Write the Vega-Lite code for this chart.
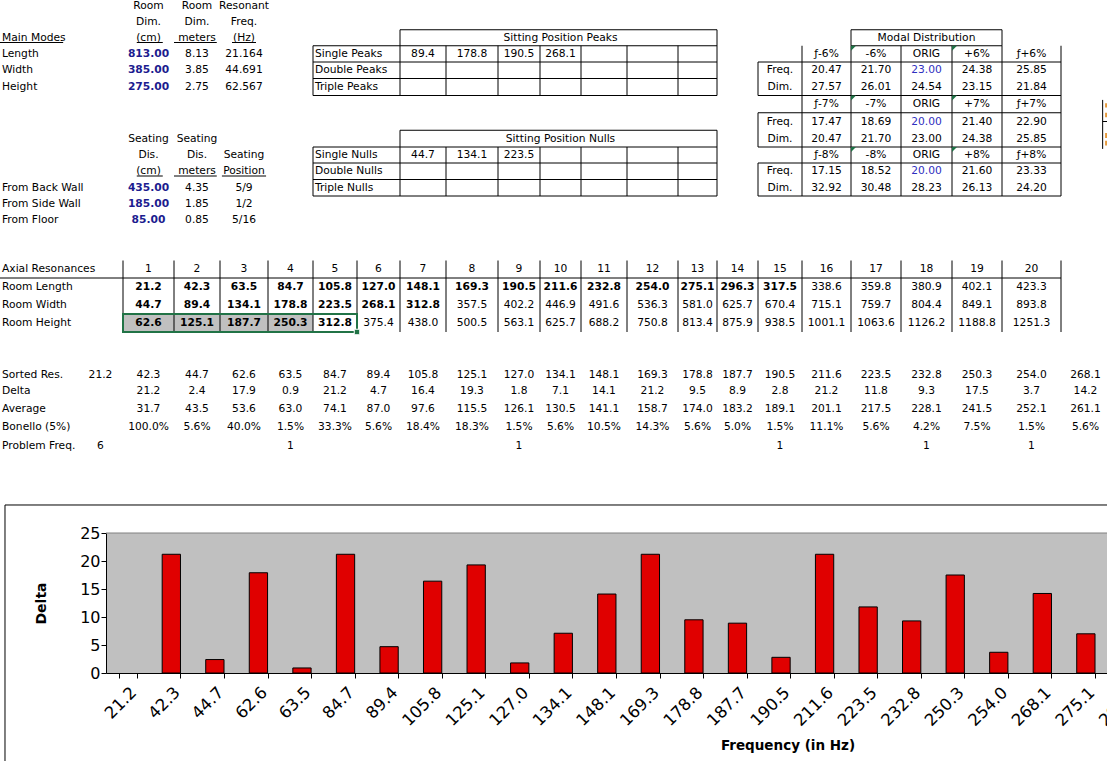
{
  "$schema": "https://vega.github.io/schema/vega-lite/v6.json",
  "width": 1001,
  "height": 140,
  "autosize": {"type": "none"},
  "padding": {"left": 106, "top": 533, "right": 0, "bottom": 88},
  "background": "#ffffff",
  "view": {"fill": "#c0c0c0", "stroke": null},
  "config": {"font": "DejaVu Sans", "text": {"font": "DejaVu Sans", "fontSize": 10.7, "baseline": "middle"}},
  "datasets": {
    "cells": [
      {"row":0,"col":2.5,"t":"Room","k":"n"},{"row":0,"col":3.5,"t":"Room","k":"n"},{"row":0,"col":4.5,"t":"Resonant","k":"n"},
      {"row":1,"col":2.5,"t":"Dim.","k":"n"},{"row":1,"col":3.5,"t":"Dim.","k":"n"},{"row":1,"col":4.5,"t":"Freq.","k":"n"},
      {"row":2,"col":0,"t":"Main Modes","k":"l"},{"row":2,"col":2.5,"t":"(cm)","k":"n"},{"row":2,"col":3.5,"t":"meters","k":"n"},{"row":2,"col":4.5,"t":"(Hz)","k":"n"},
      {"row":2,"col":11.5,"t":"Sitting Position Peaks","k":"n"},{"row":2,"col":19.5,"t":"Modal Distribution","k":"n"},
      {"row":3,"col":0,"t":"Length","k":"l"},{"row":3,"col":2.5,"t":"813.00","k":"i"},{"row":3,"col":3.5,"t":"8.13","k":"n"},{"row":3,"col":4.5,"t":"21.164","k":"n"},
      {"row":3,"col":6,"t":"Single Peaks","k":"l"},{"row":3,"col":8.5,"t":"89.4","k":"n"},{"row":3,"col":9.5,"t":"178.8","k":"n"},{"row":3,"col":10.5,"t":"190.5","k":"n"},{"row":3,"col":11.5,"t":"268.1","k":"n"},
      {"row":3,"col":17.5,"t":"ƒ-6%","k":"n"},{"row":3,"col":18.5,"t":"-6%","k":"n"},{"row":3,"col":19.5,"t":"ORIG","k":"n"},{"row":3,"col":20.5,"t":"+6%","k":"n"},{"row":3,"col":21.5,"t":"ƒ+6%","k":"n"},
      {"row":4,"col":0,"t":"Width","k":"l"},{"row":4,"col":2.5,"t":"385.00","k":"i"},{"row":4,"col":3.5,"t":"3.85","k":"n"},{"row":4,"col":4.5,"t":"44.691","k":"n"},
      {"row":4,"col":6,"t":"Double Peaks","k":"l"},
      {"row":4,"col":16.5,"t":"Freq.","k":"n"},{"row":4,"col":17.5,"t":"20.47","k":"n"},{"row":4,"col":18.5,"t":"21.70","k":"n"},{"row":4,"col":19.5,"t":"23.00","k":"o"},{"row":4,"col":20.5,"t":"24.38","k":"n"},{"row":4,"col":21.5,"t":"25.85","k":"n"},
      {"row":5,"col":0,"t":"Height","k":"l"},{"row":5,"col":2.5,"t":"275.00","k":"i"},{"row":5,"col":3.5,"t":"2.75","k":"n"},{"row":5,"col":4.5,"t":"62.567","k":"n"},
      {"row":5,"col":6,"t":"Triple Peaks","k":"l"},
      {"row":5,"col":16.5,"t":"Dim.","k":"n"},{"row":5,"col":17.5,"t":"27.57","k":"n"},{"row":5,"col":18.5,"t":"26.01","k":"n"},{"row":5,"col":19.5,"t":"24.54","k":"n"},{"row":5,"col":20.5,"t":"23.15","k":"n"},{"row":5,"col":21.5,"t":"21.84","k":"n"},
      {"row":6,"col":17.5,"t":"ƒ-7%","k":"n"},{"row":6,"col":18.5,"t":"-7%","k":"n"},{"row":6,"col":19.5,"t":"ORIG","k":"n"},{"row":6,"col":20.5,"t":"+7%","k":"n"},{"row":6,"col":21.5,"t":"ƒ+7%","k":"n"},
      {"row":7,"col":16.5,"t":"Freq.","k":"n"},{"row":7,"col":17.5,"t":"17.47","k":"n"},{"row":7,"col":18.5,"t":"18.69","k":"n"},{"row":7,"col":19.5,"t":"20.00","k":"o"},{"row":7,"col":20.5,"t":"21.40","k":"n"},{"row":7,"col":21.5,"t":"22.90","k":"n"},
      {"row":8,"col":2.5,"t":"Seating","k":"n"},{"row":8,"col":3.5,"t":"Seating","k":"n"},{"row":8,"col":11.5,"t":"Sitting Position Nulls","k":"n"},
      {"row":8,"col":16.5,"t":"Dim.","k":"n"},{"row":8,"col":17.5,"t":"20.47","k":"n"},{"row":8,"col":18.5,"t":"21.70","k":"n"},{"row":8,"col":19.5,"t":"23.00","k":"n"},{"row":8,"col":20.5,"t":"24.38","k":"n"},{"row":8,"col":21.5,"t":"25.85","k":"n"},
      {"row":9,"col":2.5,"t":"Dis.","k":"n"},{"row":9,"col":3.5,"t":"Dis.","k":"n"},{"row":9,"col":4.5,"t":"Seating","k":"n"},
      {"row":9,"col":6,"t":"Single Nulls","k":"l"},{"row":9,"col":8.5,"t":"44.7","k":"n"},{"row":9,"col":9.5,"t":"134.1","k":"n"},{"row":9,"col":10.5,"t":"223.5","k":"n"},
      {"row":9,"col":17.5,"t":"ƒ-8%","k":"n"},{"row":9,"col":18.5,"t":"-8%","k":"n"},{"row":9,"col":19.5,"t":"ORIG","k":"n"},{"row":9,"col":20.5,"t":"+8%","k":"n"},{"row":9,"col":21.5,"t":"ƒ+8%","k":"n"},
      {"row":10,"col":2.5,"t":"(cm)","k":"n"},{"row":10,"col":3.5,"t":"meters","k":"n"},{"row":10,"col":4.5,"t":"Position","k":"n"},
      {"row":10,"col":6,"t":"Double Nulls","k":"l"},
      {"row":10,"col":16.5,"t":"Freq.","k":"n"},{"row":10,"col":17.5,"t":"17.15","k":"n"},{"row":10,"col":18.5,"t":"18.52","k":"n"},{"row":10,"col":19.5,"t":"20.00","k":"o"},{"row":10,"col":20.5,"t":"21.60","k":"n"},{"row":10,"col":21.5,"t":"23.33","k":"n"},
      {"row":11,"col":0,"t":"From Back Wall","k":"l"},{"row":11,"col":2.5,"t":"435.00","k":"i"},{"row":11,"col":3.5,"t":"4.35","k":"n"},{"row":11,"col":4.5,"t":"5/9","k":"n"},
      {"row":11,"col":6,"t":"Triple Nulls","k":"l"},
      {"row":11,"col":16.5,"t":"Dim.","k":"n"},{"row":11,"col":17.5,"t":"32.92","k":"n"},{"row":11,"col":18.5,"t":"30.48","k":"n"},{"row":11,"col":19.5,"t":"28.23","k":"n"},{"row":11,"col":20.5,"t":"26.13","k":"n"},{"row":11,"col":21.5,"t":"24.20","k":"n"},
      {"row":12,"col":0,"t":"From Side Wall","k":"l"},{"row":12,"col":2.5,"t":"185.00","k":"i"},{"row":12,"col":3.5,"t":"1.85","k":"n"},{"row":12,"col":4.5,"t":"1/2","k":"n"},
      {"row":13,"col":0,"t":"From Floor","k":"l"},{"row":13,"col":2.5,"t":"85.00","k":"i"},{"row":13,"col":3.5,"t":"0.85","k":"n"},{"row":13,"col":4.5,"t":"5/16","k":"n"},
      {"row":16,"col":0,"t":"Axial Resonances","k":"l"},
      {"row":16,"col":2.5,"t":"1","k":"n"},{"row":16,"col":3.5,"t":"2","k":"n"},{"row":16,"col":4.5,"t":"3","k":"n"},{"row":16,"col":5.5,"t":"4","k":"n"},{"row":16,"col":6.5,"t":"5","k":"n"},
      {"row":16,"col":7.5,"t":"6","k":"n"},{"row":16,"col":8.5,"t":"7","k":"n"},{"row":16,"col":9.5,"t":"8","k":"n"},{"row":16,"col":10.5,"t":"9","k":"n"},{"row":16,"col":11.5,"t":"10","k":"n"},
      {"row":16,"col":12.5,"t":"11","k":"n"},{"row":16,"col":13.5,"t":"12","k":"n"},{"row":16,"col":14.5,"t":"13","k":"n"},{"row":16,"col":15.5,"t":"14","k":"n"},{"row":16,"col":16.5,"t":"15","k":"n"},
      {"row":16,"col":17.5,"t":"16","k":"n"},{"row":16,"col":18.5,"t":"17","k":"n"},{"row":16,"col":19.5,"t":"18","k":"n"},{"row":16,"col":20.5,"t":"19","k":"n"},{"row":16,"col":21.5,"t":"20","k":"n"},
      {"row":17,"col":0,"t":"Room Length","k":"l"},
      {"row":17,"col":2.5,"t":"21.2","k":"b"},{"row":17,"col":3.5,"t":"42.3","k":"b"},{"row":17,"col":4.5,"t":"63.5","k":"b"},{"row":17,"col":5.5,"t":"84.7","k":"b"},{"row":17,"col":6.5,"t":"105.8","k":"b"},
      {"row":17,"col":7.5,"t":"127.0","k":"b"},{"row":17,"col":8.5,"t":"148.1","k":"b"},{"row":17,"col":9.5,"t":"169.3","k":"b"},{"row":17,"col":10.5,"t":"190.5","k":"b"},{"row":17,"col":11.5,"t":"211.6","k":"b"},
      {"row":17,"col":12.5,"t":"232.8","k":"b"},{"row":17,"col":13.5,"t":"254.0","k":"b"},{"row":17,"col":14.5,"t":"275.1","k":"b"},{"row":17,"col":15.5,"t":"296.3","k":"b"},{"row":17,"col":16.5,"t":"317.5","k":"b"},
      {"row":17,"col":17.5,"t":"338.6","k":"n"},{"row":17,"col":18.5,"t":"359.8","k":"n"},{"row":17,"col":19.5,"t":"380.9","k":"n"},{"row":17,"col":20.5,"t":"402.1","k":"n"},{"row":17,"col":21.5,"t":"423.3","k":"n"},
      {"row":18,"col":0,"t":"Room Width","k":"l"},
      {"row":18,"col":2.5,"t":"44.7","k":"b"},{"row":18,"col":3.5,"t":"89.4","k":"b"},{"row":18,"col":4.5,"t":"134.1","k":"b"},{"row":18,"col":5.5,"t":"178.8","k":"b"},{"row":18,"col":6.5,"t":"223.5","k":"b"},
      {"row":18,"col":7.5,"t":"268.1","k":"b"},{"row":18,"col":8.5,"t":"312.8","k":"b"},{"row":18,"col":9.5,"t":"357.5","k":"n"},{"row":18,"col":10.5,"t":"402.2","k":"n"},{"row":18,"col":11.5,"t":"446.9","k":"n"},
      {"row":18,"col":12.5,"t":"491.6","k":"n"},{"row":18,"col":13.5,"t":"536.3","k":"n"},{"row":18,"col":14.5,"t":"581.0","k":"n"},{"row":18,"col":15.5,"t":"625.7","k":"n"},{"row":18,"col":16.5,"t":"670.4","k":"n"},
      {"row":18,"col":17.5,"t":"715.1","k":"n"},{"row":18,"col":18.5,"t":"759.7","k":"n"},{"row":18,"col":19.5,"t":"804.4","k":"n"},{"row":18,"col":20.5,"t":"849.1","k":"n"},{"row":18,"col":21.5,"t":"893.8","k":"n"},
      {"row":19,"col":0,"t":"Room Height","k":"l"},
      {"row":19,"col":2.5,"t":"62.6","k":"b"},{"row":19,"col":3.5,"t":"125.1","k":"b"},{"row":19,"col":4.5,"t":"187.7","k":"b"},{"row":19,"col":5.5,"t":"250.3","k":"b"},{"row":19,"col":6.5,"t":"312.8","k":"b"},
      {"row":19,"col":7.5,"t":"375.4","k":"n"},{"row":19,"col":8.5,"t":"438.0","k":"n"},{"row":19,"col":9.5,"t":"500.5","k":"n"},{"row":19,"col":10.5,"t":"563.1","k":"n"},{"row":19,"col":11.5,"t":"625.7","k":"n"},
      {"row":19,"col":12.5,"t":"688.2","k":"n"},{"row":19,"col":13.5,"t":"750.8","k":"n"},{"row":19,"col":14.5,"t":"813.4","k":"n"},{"row":19,"col":15.5,"t":"875.9","k":"n"},{"row":19,"col":16.5,"t":"938.5","k":"n"},
      {"row":19,"col":17.5,"t":"1001.1","k":"n"},{"row":19,"col":18.5,"t":"1063.6","k":"n"},{"row":19,"col":19.5,"t":"1126.2","k":"n"},{"row":19,"col":20.5,"t":"1188.8","k":"n"},{"row":19,"col":21.5,"t":"1251.3","k":"n"},
      {"row":22,"col":0,"t":"Sorted Res.","k":"l"},{"row":22,"col":1.5,"t":"21.2","k":"n"},
      {"row":22,"col":2.5,"t":"42.3","k":"n"},{"row":22,"col":3.5,"t":"44.7","k":"n"},{"row":22,"col":4.5,"t":"62.6","k":"n"},{"row":22,"col":5.5,"t":"63.5","k":"n"},{"row":22,"col":6.5,"t":"84.7","k":"n"},
      {"row":22,"col":7.5,"t":"89.4","k":"n"},{"row":22,"col":8.5,"t":"105.8","k":"n"},{"row":22,"col":9.5,"t":"125.1","k":"n"},{"row":22,"col":10.5,"t":"127.0","k":"n"},{"row":22,"col":11.5,"t":"134.1","k":"n"},
      {"row":22,"col":12.5,"t":"148.1","k":"n"},{"row":22,"col":13.5,"t":"169.3","k":"n"},{"row":22,"col":14.5,"t":"178.8","k":"n"},{"row":22,"col":15.5,"t":"187.7","k":"n"},{"row":22,"col":16.5,"t":"190.5","k":"n"},
      {"row":22,"col":17.5,"t":"211.6","k":"n"},{"row":22,"col":18.5,"t":"223.5","k":"n"},{"row":22,"col":19.5,"t":"232.8","k":"n"},{"row":22,"col":20.5,"t":"250.3","k":"n"},{"row":22,"col":21.5,"t":"254.0","k":"n"},{"row":22,"col":22.5,"t":"268.1","k":"n"},
      {"row":23,"col":0,"t":"Delta","k":"l"},
      {"row":23,"col":2.5,"t":"21.2","k":"n"},{"row":23,"col":3.5,"t":"2.4","k":"n"},{"row":23,"col":4.5,"t":"17.9","k":"n"},{"row":23,"col":5.5,"t":"0.9","k":"n"},{"row":23,"col":6.5,"t":"21.2","k":"n"},
      {"row":23,"col":7.5,"t":"4.7","k":"n"},{"row":23,"col":8.5,"t":"16.4","k":"n"},{"row":23,"col":9.5,"t":"19.3","k":"n"},{"row":23,"col":10.5,"t":"1.8","k":"n"},{"row":23,"col":11.5,"t":"7.1","k":"n"},
      {"row":23,"col":12.5,"t":"14.1","k":"n"},{"row":23,"col":13.5,"t":"21.2","k":"n"},{"row":23,"col":14.5,"t":"9.5","k":"n"},{"row":23,"col":15.5,"t":"8.9","k":"n"},{"row":23,"col":16.5,"t":"2.8","k":"n"},
      {"row":23,"col":17.5,"t":"21.2","k":"n"},{"row":23,"col":18.5,"t":"11.8","k":"n"},{"row":23,"col":19.5,"t":"9.3","k":"n"},{"row":23,"col":20.5,"t":"17.5","k":"n"},{"row":23,"col":21.5,"t":"3.7","k":"n"},{"row":23,"col":22.5,"t":"14.2","k":"n"},
      {"row":24,"col":0,"t":"Average","k":"l"},
      {"row":24,"col":2.5,"t":"31.7","k":"n"},{"row":24,"col":3.5,"t":"43.5","k":"n"},{"row":24,"col":4.5,"t":"53.6","k":"n"},{"row":24,"col":5.5,"t":"63.0","k":"n"},{"row":24,"col":6.5,"t":"74.1","k":"n"},
      {"row":24,"col":7.5,"t":"87.0","k":"n"},{"row":24,"col":8.5,"t":"97.6","k":"n"},{"row":24,"col":9.5,"t":"115.5","k":"n"},{"row":24,"col":10.5,"t":"126.1","k":"n"},{"row":24,"col":11.5,"t":"130.5","k":"n"},
      {"row":24,"col":12.5,"t":"141.1","k":"n"},{"row":24,"col":13.5,"t":"158.7","k":"n"},{"row":24,"col":14.5,"t":"174.0","k":"n"},{"row":24,"col":15.5,"t":"183.2","k":"n"},{"row":24,"col":16.5,"t":"189.1","k":"n"},
      {"row":24,"col":17.5,"t":"201.1","k":"n"},{"row":24,"col":18.5,"t":"217.5","k":"n"},{"row":24,"col":19.5,"t":"228.1","k":"n"},{"row":24,"col":20.5,"t":"241.5","k":"n"},{"row":24,"col":21.5,"t":"252.1","k":"n"},{"row":24,"col":22.5,"t":"261.1","k":"n"},
      {"row":25,"col":0,"t":"Bonello (5%)","k":"l"},
      {"row":25,"col":2.5,"t":"100.0%","k":"n"},{"row":25,"col":3.5,"t":"5.6%","k":"n"},{"row":25,"col":4.5,"t":"40.0%","k":"n"},{"row":25,"col":5.5,"t":"1.5%","k":"n"},{"row":25,"col":6.5,"t":"33.3%","k":"n"},
      {"row":25,"col":7.5,"t":"5.6%","k":"n"},{"row":25,"col":8.5,"t":"18.4%","k":"n"},{"row":25,"col":9.5,"t":"18.3%","k":"n"},{"row":25,"col":10.5,"t":"1.5%","k":"n"},{"row":25,"col":11.5,"t":"5.6%","k":"n"},
      {"row":25,"col":12.5,"t":"10.5%","k":"n"},{"row":25,"col":13.5,"t":"14.3%","k":"n"},{"row":25,"col":14.5,"t":"5.6%","k":"n"},{"row":25,"col":15.5,"t":"5.0%","k":"n"},{"row":25,"col":16.5,"t":"1.5%","k":"n"},
      {"row":25,"col":17.5,"t":"11.1%","k":"n"},{"row":25,"col":18.5,"t":"5.6%","k":"n"},{"row":25,"col":19.5,"t":"4.2%","k":"n"},{"row":25,"col":20.5,"t":"7.5%","k":"n"},{"row":25,"col":21.5,"t":"1.5%","k":"n"},{"row":25,"col":22.5,"t":"5.6%","k":"n"},
      {"row":26,"col":0,"t":"Problem Freq.","k":"l"},{"row":26,"col":1.5,"t":"6","k":"n"},
      {"row":26,"col":5.5,"t":"1","k":"n"},{"row":26,"col":10.5,"t":"1","k":"n"},{"row":26,"col":16.5,"t":"1","k":"n"},{"row":26,"col":19.5,"t":"1","k":"n"},{"row":26,"col":21.5,"t":"1","k":"n"}
    ],
    "hl": [
      {"row":1.5,"col":8,"col2":15},{"row":2.5,"col":6,"col2":15},{"row":3.5,"col":6,"col2":15},{"row":4.5,"col":6,"col2":15},{"row":5.5,"col":6,"col2":15},
      {"row":7.5,"col":8,"col2":15},{"row":8.5,"col":6,"col2":15},{"row":9.5,"col":6,"col2":15},{"row":10.5,"col":6,"col2":15},{"row":11.5,"col":6,"col2":15},
      {"row":1.5,"col":18,"col2":21},{"row":2.5,"col":18,"col2":21},{"row":3.5,"col":16,"col2":22},{"row":5.5,"col":16,"col2":22},{"row":6.5,"col":16,"col2":22},
      {"row":8.5,"col":16,"col2":22},{"row":9.5,"col":16,"col2":22},{"row":11.5,"col":16,"col2":22},
      {"row":16.5,"col":0,"col2":22},
      {"row":7.0,"col":22.85,"col2":24}
    ],
    "vl": [
      {"col":8,"row":1.5,"row2":5.5},{"col":15,"row":1.5,"row2":5.5},{"col":6,"row":2.5,"row2":5.5},
      {"col":9,"row":2.5,"row2":5.5},{"col":10,"row":2.5,"row2":5.5},{"col":11,"row":2.5,"row2":5.5},{"col":12,"row":2.5,"row2":5.5},{"col":13,"row":2.5,"row2":5.5},{"col":14,"row":2.5,"row2":5.5},
      {"col":8,"row":7.5,"row2":11.5},{"col":15,"row":7.5,"row2":11.5},{"col":6,"row":8.5,"row2":11.5},
      {"col":9,"row":8.5,"row2":11.5},{"col":10,"row":8.5,"row2":11.5},{"col":11,"row":8.5,"row2":11.5},{"col":12,"row":8.5,"row2":11.5},{"col":13,"row":8.5,"row2":11.5},{"col":14,"row":8.5,"row2":11.5},
      {"col":18,"row":1.5,"row2":2.5},{"col":21,"row":1.5,"row2":2.5},
      {"col":17,"row":2.5,"row2":11.5},{"col":18,"row":2.5,"row2":11.5},{"col":19,"row":2.5,"row2":11.5},{"col":20,"row":2.5,"row2":11.5},{"col":21,"row":2.5,"row2":11.5},{"col":22,"row":2.5,"row2":11.5},
      {"col":16,"row":3.5,"row2":5.5},{"col":16,"row":6.5,"row2":8.5},{"col":16,"row":9.5,"row2":11.5},
      {"col":2,"row":15.5,"row2":19.5},{"col":3,"row":15.5,"row2":19.5},{"col":4,"row":15.5,"row2":19.5},{"col":5,"row":15.5,"row2":19.5},{"col":6,"row":15.5,"row2":19.5},
      {"col":7,"row":15.5,"row2":19.5},{"col":8,"row":15.5,"row2":19.5},{"col":9,"row":15.5,"row2":19.5},{"col":10,"row":15.5,"row2":19.5},{"col":11,"row":15.5,"row2":19.5},
      {"col":12,"row":15.5,"row2":19.5},{"col":13,"row":15.5,"row2":19.5},{"col":14,"row":15.5,"row2":19.5},{"col":15,"row":15.5,"row2":19.5},{"col":16,"row":15.5,"row2":19.5},
      {"col":17,"row":15.5,"row2":19.5},{"col":18,"row":15.5,"row2":19.5},{"col":19,"row":15.5,"row2":19.5},{"col":20,"row":15.5,"row2":19.5},{"col":21,"row":15.5,"row2":19.5},{"col":22,"row":15.5,"row2":19.5},
      {"col":22.85,"row":5.76,"row2":8.62}
    ],
    "ul": [
      {"row":2,"col":0,"col2":0.81},{"row":2,"col":2.27,"col2":2.78},{"row":2,"col":3.0,"col2":3.93},{"row":2,"col":4.25,"col2":4.75},
      {"row":10,"col":2.27,"col2":2.78},{"row":10,"col":3.0,"col2":3.93},{"row":10,"col":4.04,"col2":4.96}
    ],
    "shapes": [
      {"k":"gray","col":2,"col2":6,"row":18.5,"row2":19.5},
      {"k":"sel","col":2,"col2":7,"row":18.5,"row2":19.5},
      {"k":"frame","col":0.064,"col2":30,"row":29.47,"row2":50},
      {"k":"ink","col":22.9,"col2":24,"row":5.95,"row2":6.2},
      {"k":"ink","col":22.9,"col2":24,"row":6.5,"row2":6.75},
      {"k":"ink","col":22.9,"col2":24,"row":7.66,"row2":7.94},
      {"k":"ink","col":22.9,"col2":24,"row":8.11,"row2":8.4}
    ],
    "handle": [{"col":7,"row":19.5}],
    "notes": [
      {"col":18,"row":2.5},{"col":20,"row":2.5},{"col":18,"row":5.5},{"col":20,"row":5.5},{"col":18,"row":8.5},{"col":20,"row":8.5}
    ],
    "bars": [
      {"f":"21.2","d":null},{"f":"42.3","d":21.2},{"f":"44.7","d":2.4},{"f":"62.6","d":17.9},{"f":"63.5","d":0.9},
      {"f":"84.7","d":21.2},{"f":"89.4","d":4.7},{"f":"105.8","d":16.4},{"f":"125.1","d":19.3},{"f":"127.0","d":1.8},
      {"f":"134.1","d":7.1},{"f":"148.1","d":14.1},{"f":"169.3","d":21.2},{"f":"178.8","d":9.5},{"f":"187.7","d":8.9},
      {"f":"190.5","d":2.8},{"f":"211.6","d":21.2},{"f":"223.5","d":11.8},{"f":"232.8","d":9.3},{"f":"250.3","d":17.5},
      {"f":"254.0","d":3.7},{"f":"268.1","d":14.2},{"f":"275.1","d":7.0},{"f":"296.3","d":21.2}
    ]
  },
  "layer": [
    {
      "encoding": {
        "x": {"field": "col", "type": "quantitative", "axis": null,
          "scale": {"type": "linear", "nice": false, "zero": false,
            "domain": [0,1,2,3,4,5,6,7,8,9,10,11,12,13,14,15,16,17,18,19,20,21,22,23,24],
            "range": [-106,-28,17,68,114,162,207,251,294,340,392,434,475,521,572,611,652,696,745,795,846,896,955,1004,1054]}},
        "y": {"field": "row", "type": "quantitative", "axis": null,
          "scale": {"type": "linear", "nice": false, "zero": false,
            "domain": [0,1,2,3,4,5,6,7,8,9,10,11,12,13,14,15,16,17,18,19,20,21,22,23,24,25,26,27,28,29,30],
            "range": [-527,-511,-495.5,-479,-463,-446,-429,-411.5,-394,-378,-362,-345,-329,-313,-297,-281,-264,-246,-228,-210,-192,-175,-158,-142,-124,-106,-87,-70,-53,-36,-19]}}
      },
      "layer": [
        {"data": {"name": "shapes"}, "transform": [{"filter": "datum.k == 'gray'"}],
         "mark": {"type": "rect", "fill": "#c0c0c0"},
         "encoding": {"x2": {"field": "col2"}, "y2": {"field": "row2"}}},
        {"data": {"name": "shapes"}, "transform": [{"filter": "datum.k == 'ink'"}],
         "mark": {"type": "rect", "fill": "#e69a3c"},
         "encoding": {"x2": {"field": "col2"}, "y2": {"field": "row2"}}},
        {"data": {"name": "cells"}, "transform": [{"filter": "datum.k == 'l'"}],
         "mark": {"type": "text", "align": "left", "dx": 2, "color": "#000000"},
         "encoding": {"text": {"field": "t"}}},
        {"data": {"name": "cells"}, "transform": [{"filter": "datum.k == 'n'"}],
         "mark": {"type": "text", "align": "center", "color": "#000000"},
         "encoding": {"text": {"field": "t"}}},
        {"data": {"name": "cells"}, "transform": [{"filter": "datum.k == 'b'"}],
         "mark": {"type": "text", "align": "center", "fontWeight": "bold", "color": "#000000"},
         "encoding": {"text": {"field": "t"}}},
        {"data": {"name": "cells"}, "transform": [{"filter": "datum.k == 'i'"}],
         "mark": {"type": "text", "align": "center", "fontWeight": "bold", "color": "#1c1c8f"},
         "encoding": {"text": {"field": "t"}}},
        {"data": {"name": "cells"}, "transform": [{"filter": "datum.k == 'o'"}],
         "mark": {"type": "text", "align": "center", "color": "#2f2fc0"},
         "encoding": {"text": {"field": "t"}}},
        {"data": {"name": "hl"}, "mark": {"type": "rule", "color": "#000000", "strokeWidth": 1},
         "encoding": {"x2": {"field": "col2"}}},
        {"data": {"name": "vl"}, "mark": {"type": "rule", "color": "#000000", "strokeWidth": 1},
         "encoding": {"y2": {"field": "row2"}}},
        {"data": {"name": "ul"}, "mark": {"type": "rule", "color": "#000000", "strokeWidth": 1},
         "encoding": {"x2": {"field": "col2"}, "yOffset": {"value": 5}}},
        {"data": {"name": "shapes"}, "transform": [{"filter": "datum.k == 'sel'"}],
         "mark": {"type": "rect", "filled": false, "stroke": "#217346", "strokeWidth": 2},
         "encoding": {"x2": {"field": "col2"}, "y2": {"field": "row2"}}},
        {"data": {"name": "shapes"}, "transform": [{"filter": "datum.k == 'frame'"}],
         "mark": {"type": "rect", "filled": false, "stroke": "#000000", "strokeWidth": 1},
         "encoding": {"x2": {"field": "col2"}, "y2": {"field": "row2"}}},
        {"data": {"name": "handle"},
         "mark": {"type": "point", "shape": "square", "filled": true, "size": 30, "color": "#217346", "stroke": "#ffffff", "strokeWidth": 1, "opacity": 1},
         "encoding": {}},
        {"data": {"name": "notes"},
         "mark": {"type": "point", "shape": "M0,0L1,0L0,1Z", "filled": true, "size": 100, "color": "#1e7145", "strokeWidth": 0, "opacity": 1},
         "encoding": {}}
      ]
    },
    {
      "layer": [
        {"data": {"values": [{}]},
         "mark": {"type": "rule", "color": "#808080", "strokeWidth": 1},
         "encoding": {"y": {"datum": 25, "type": "quantitative",
                "scale": {"domain": [0, 25], "nice": false},
                "axis": {"title": "Delta", "values": [0, 5, 10, 15, 20, 25], "labelOverlap": false, "labelFlush": false, "tickSize": 5, "tickColor": "#000000", "domainColor": "#000000",
                  "labelColor": "#000000", "labelFont": "DejaVu Sans", "labelFontSize": 16, "labelPadding": 1,
                  "titleFont": "DejaVu Sans", "titleFontSize": 14, "titleFontWeight": "bold", "titleColor": "#000000", "titlePadding": 31, "grid": false}}}},
        {"data": {"name": "bars"},
         "encoding": {
           "x": {"field": "f", "type": "ordinal", "sort": null,
             "scale": {"type": "band", "range": [0, 1045.2], "paddingInner": 0.58, "paddingOuter": 0.29},
             "axis": {"title": "Frequency (in Hz)", "titleX": 681.5, "labelAngle": -45, "labelOverlap": false, "tickBand": "extent", "tickSize": 5,
               "tickColor": "#000000", "domainColor": "#000000", "labelColor": "#000000", "labelFont": "DejaVu Sans", "labelFontSize": 16.5,
               "labelPadding": 6, "titleFont": "DejaVu Sans", "titleFontSize": 13.5, "titleFontWeight": "bold", "titleColor": "#000000",
               "titlePadding": 9, "grid": false}}
         },
         "layer": [
           {"mark": {"type": "point", "opacity": 0}},
           {"mark": {"type": "bar", "fill": "#e00000", "stroke": "#000000", "strokeWidth": 1},
            "encoding": {
              "y": {"field": "d", "type": "quantitative",
                "scale": {"domain": [0, 25], "nice": false},
                "axis": {"title": "Delta", "values": [0, 5, 10, 15, 20, 25], "labelOverlap": false, "labelFlush": false, "tickSize": 5, "tickColor": "#000000", "domainColor": "#000000",
                  "labelColor": "#000000", "labelFont": "DejaVu Sans", "labelFontSize": 16, "labelPadding": 1,
                  "titleFont": "DejaVu Sans", "titleFontSize": 14, "titleFontWeight": "bold", "titleColor": "#000000", "titlePadding": 31, "grid": false}}
            }}
         ]}
      ]
    }
  ],
  "resolve": {"scale": {"x": "independent", "y": "independent"}}
}
